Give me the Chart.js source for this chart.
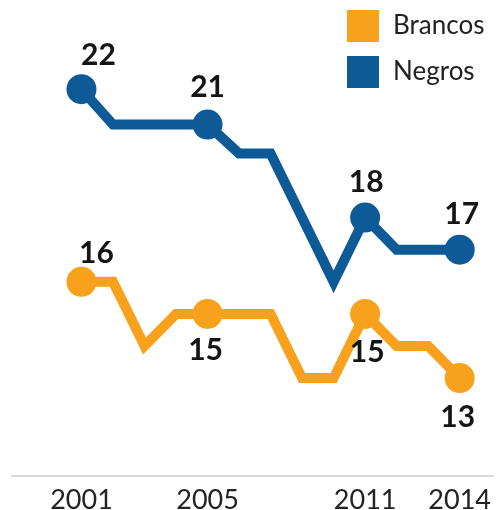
<!DOCTYPE html>
<html><head><meta charset="utf-8">
<script src="https://cdn.jsdelivr.net/npm/chart.js@4.4.1/dist/chart.umd.min.js"></script>
<style>html,body{margin:0;padding:0;background:#fff;}#wrap{width:499px;height:510px;}</style>
</head><body><div id="wrap"><canvas id="c" width="499" height="510"></canvas></div>
<script>
// ---- data ----
const years = ['2001','2002','2003','2004','2005','2006','2007','2008','2009','2011','2012','2013','2014'];
const tickYears = ['2001','2005','2011','2014'];
const seriesNames = ['Brancos','Negros'];
const brancos = [16,16,14,15,15,15,15,13,13,15,14,14,13];
const negros  = [22,20.9,20.9,20.9,20.9,20,20,18,16,18,17,17,17];

const ORANGE = '#F8A11D';
const BLUE = '#0D5A97';
const markIdx = tickYears.map(y => years.indexOf(y));
const toPts = arr => arr.map((v, i) => ({x: i, y: v}));

const valueLabels = {
  id: 'valueLabels',
  afterDatasetsDraw(chart) {
    const ctx = chart.ctx;
    chart.data.datasets.forEach((ds, di) => {
      const meta = chart.getDatasetMeta(di);
      markIdx.forEach((idx, k) => {
        const pt = meta.data[idx];
        const off = ds.labelOffsets[k];
        ctx.save();
        ctx.font = 'bold 30px Lato';
        ctx.fillStyle = '#151515';
        ctx.textAlign = 'center';
        ctx.textBaseline = 'alphabetic';
        ctx.fillText(String(Math.round(ds.data[idx].y)), pt.x + off[0], pt.y + off[1] + 10.7);
        ctx.restore();
      });
    });
  }
};

const sideLegend = {
  id: 'sideLegend',
  afterDraw(chart) {
    const ctx = chart.ctx;
    const x0 = chart.width - 152;
    chart.data.datasets.forEach((ds, i) => {
      const y0 = 10 + i * 46;
      ctx.save();
      ctx.fillStyle = ds.borderColor;
      ctx.fillRect(x0, y0, 32, 32);
      ctx.font = '26px Lato';
      ctx.fillStyle = '#222';
      ctx.textBaseline = 'middle';
      ctx.textAlign = 'left';
      ctx.fillText(ds.label, x0 + 46, y0 + 16);
      ctx.restore();
    });
  }
};

new Chart(document.getElementById('c'), {
  type: 'line',
  data: {
    datasets: [
      {label: seriesNames[0], data: toPts(brancos), borderColor: ORANGE, backgroundColor: ORANGE,
       labelOffsets: [[15,-30],[-2,35],[2,37],[-2,38]]},
      {label: seriesNames[1], data: toPts(negros), borderColor: BLUE, backgroundColor: BLUE,
       labelOffsets: [[17,-35],[0,-38],[1,-36],[2,-36]]}
    ]
  },
  options: {
    responsive: false,
    devicePixelRatio: 1,
    animation: false,
    layout: {autoPadding: false, padding: {left: 12, right: 0, top: 0, bottom: 0}},
    elements: {
      line: {borderWidth: 10, tension: 0, borderJoinStyle: 'miter', fill: false},
      point: {
        radius: c => markIdx.includes(c.dataIndex) ? 15 : 0,
        hoverRadius: c => markIdx.includes(c.dataIndex) ? 15 : 0,
        borderWidth: 0
      }
    },
    plugins: {legend: {display: false}, tooltip: {enabled: false}},
    scales: {
      x: {
        type: 'linear',
        min: -2.204, max: 13.066,
        afterBuildTicks: s => { s.ticks = markIdx.map(v => ({value: v})); },
        afterFit: s => { s.height = 34; },
        ticks: {
          callback: v => years[v],
          font: {family: 'Lato', size: 27},
          color: '#222',
          padding: 8,
          autoSkip: false,
          maxRotation: 0
        },
        grid: {display: false, drawTicks: false},
        border: {display: true, color: '#d8d8d8', width: 2}
      },
      y: {display: false, min: 9.95, max: 24.78}
    }
  },
  plugins: [valueLabels, sideLegend]
});
</script>
</body></html>
